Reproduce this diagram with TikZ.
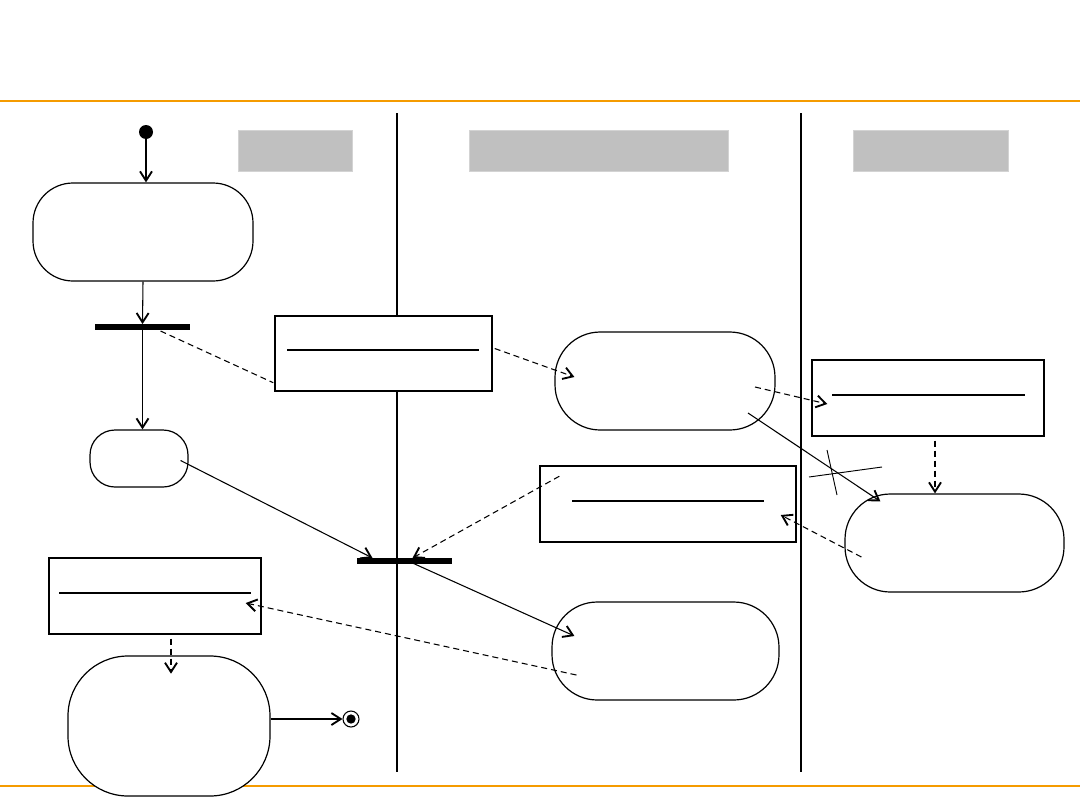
\documentclass[tikz,border=0pt]{standalone}
\usetikzlibrary{arrows.meta,calc}
\definecolor{accent}{HTML}{F59B00}
\definecolor{lanehead}{HTML}{C0C0C0}
\begin{document}
\begin{tikzpicture}[x=0.75pt,y=-0.75pt,
  state/.style={draw, line width=0.9pt, rounded corners=#1, inner sep=0pt, fill=white},
  objbox/.style={draw, line width=1.1pt, inner sep=0pt, fill=white},
  forkbar/.style={fill=black, inner sep=0pt, minimum height=4pt},
  lanehdr/.style={fill=lanehead, draw=lanehead!70!white, line width=0.5pt, inner sep=0pt},
  tipv/.style={-{Straight Barb[length=7pt,width=9pt,line width=1.4pt]}},
  flow/.style={line width=0.8pt, tipv},
  objflow/.style={line width=0.8pt, dash pattern=on 4.5pt off 3pt, tipv},
  thickflow/.style={line width=1.6pt, dash pattern=on 4.5pt off 3pt, tipv},
  lane/.style={line width=1.9pt},
  rule/.style={line width=2.2pt, draw=accent},
  sep/.style={line width=0.8pt}]
\useasboundingbox (0,0) rectangle (1080,810);

% frame rules and lanes
\draw[rule] (0,101) -- (1080,101);
\draw[rule] (0,786) -- (1080,786);
\draw[lane] (397,113) -- (397,772);
\draw[lane] (801,113) -- (801,772);

% lane headers
\node[lanehdr, minimum width=85.5pt, minimum height=30.75pt] (h1) at (295,150.5) {};
\node[lanehdr, minimum width=194.25pt, minimum height=30.75pt] (h2) at (598.5,150.5) {};
\node[lanehdr, minimum width=116.25pt, minimum height=30.75pt] (h3) at (930.5,150.5) {};

% start
\node[circle, fill=black, minimum size=10.5pt, inner sep=0pt] (init) at (146,132) {};

% states
\node[state=30pt, minimum width=165pt, minimum height=73.5pt] (s1) at (143,232) {};
\node[forkbar, minimum width=71.25pt] (fork1) at (142.5,327) {};
\node[state=18.75pt, minimum width=73.5pt, minimum height=42.75pt] (small) at (139,458.5) {};
\node[objbox, minimum width=162.75pt, minimum height=56.25pt] (o1) at (383.5,353.5) {};
\node[state=34pt, minimum width=165pt, minimum height=73.5pt] (s2) at (665,381) {};
\node[objbox, minimum width=174pt, minimum height=57pt] (o3) at (928,398) {};
\node[state=34pt, minimum width=164.25pt, minimum height=73.5pt] (s4) at (954.5,543) {};
\node[objbox, minimum width=192pt, minimum height=57pt] (o2) at (668,504) {};
\node[forkbar, minimum width=71.25pt] (fork2) at (404.5,561) {};
\node[state=34pt, minimum width=170.25pt, minimum height=73.5pt] (s3) at (665.5,651) {};
\node[objbox, minimum width=159pt, minimum height=57pt] (o4) at (155,596) {};
\node[state=45pt, minimum width=151.5pt, minimum height=105pt] (s5) at (169,726) {};
\node[circle, draw, line width=0.8pt, minimum size=12pt, inner sep=0pt, fill=white] (fin) at (351,719) {};
\node[circle, fill=black, minimum size=7pt, inner sep=0pt] (finc) at (fin) {};

% separators inside object boxes
\draw[sep] ($(o1.west)+(13,-3.5)$) -- ($(o1.east)+(-14,-3.5)$);
\draw[sep] ($(o3.west)+(21,-3)$) -- ($(o3.east)+(-20,-3)$);
\draw[sep, line width=1.6pt] ($(o2.west)+(33,-3)$) -- ($(o2.east)+(-33,-3)$);
\draw[sep] ($(o4.west)+(11,-3)$) -- ($(o4.east)+(-11,-3)$);

% control flows
\draw[flow] (init) -- (init |- s1.north);
\draw[flow] (s1.south) -- (fork1.north);
\draw[flow] (fork1.south) -- (fork1.south |- small.north);
\draw[flow] ($(small.east)+(-8,2)$) -- ($(fork2.center)+(-32,-3)$);
\draw[flow] ($(fork2.center)+(8,2)$) -- ($(s3.west)+(23,-15)$);
\draw[flow] ($(s2.center)+(83,32)$) -- ($(s4.north west)+(36,8)$);
\draw[flow] (fin.west -| s5.east) -- (fin.west);

% crossed mark on the flow from s2 to s4
\coordinate (xmark) at (832,472);
\draw[line width=0.7pt] ($(xmark)+(-23,5)$) -- ($(xmark)+(50,-5)$);
\draw[line width=0.7pt] ($(xmark)+(-5,-22)$) -- ($(xmark)+(5,23)$);

% object flows
\draw[line width=0.8pt, dash pattern=on 4.5pt off 3pt] ($(fork1.center)+(18,4)$) -- ($(o1.south west)+(-1,-9)$);
\draw[objflow] ($(o1.east)+(2,-5)$) -- ($(s2.west)+(20,-4)$);
\draw[objflow] ($(s2.center)+(90,6)$) -- ($(o3.west)+(16,6)$);
\coordinate (o3out) at ($(o3.south)+(7,4)$);
\draw[thickflow] (o3out) -- (o3out |- s4.north);
\coordinate (o4out) at ($(o4.south)+(16,4)$);
\draw[thickflow] (o4out) -- ($(o4out)+(0,35)$);
\draw[objflow] ($(s4.west)+(17,14)$) -- ($(o2.east)+(-16,11)$);
\draw[objflow] ($(o2.north west)+(20,11)$) -- ($(fork2.center)+(8,-3)$);
\draw[objflow] ($(s3.west)+(25,24)$) -- ($(o4.east)+(-16,7)$);
\end{tikzpicture}
\end{document}
